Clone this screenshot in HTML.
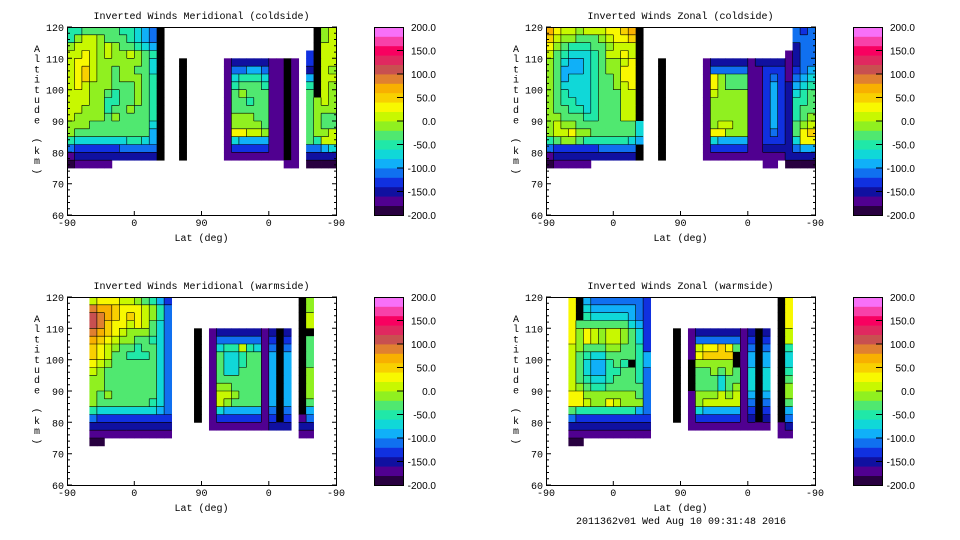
<!DOCTYPE html>
<html><head><meta charset="utf-8"><style>
html,body{margin:0;padding:0;background:#fff;}
svg{display:block;font-family:"Liberation Mono","DejaVu Sans Mono",monospace;font-size:10px;}
.cbl{font-family:"Liberation Sans","DejaVu Sans",sans-serif;font-size:10px;}
</style></head><body>
<svg id="chart" width="960" height="540" viewBox="0 0 960 540" xmlns="http://www.w3.org/2000/svg"></svg>
<script>
const bandColors=["#280040","#500090","#1010a0","#1030e0","#1070f0","#10b0f8","#10d8d8","#20e8a8","#50e870","#90f020","#c8f800","#f8f800","#f8d000","#f8b000","#e08030","#c85050","#e02860","#f80060","#f840a8","#f870f8"];
const colorbarLabels=["200.0","150.0","100.0","50.0","0.0","-50.0","-100.0","-150.0","-200.0"];
const yTickLabels=["120","110","100","90","80","70","60"];
const xTickLabels=["-90","0","90","0","-90"];
const panelTitles=["Inverted Winds Meridional (coldside)","Inverted Winds Zonal (coldside)","Inverted Winds Meridional (warmside)","Inverted Winds Zonal (warmside)"];
const gridMerCold=[
"778888877654k|........|.......|....|.k9a",
"79aa98887654k|........|.......|....|.k9a",
"9aaa9a988765k|........|.......|....|.kaa",
"aaba9a99a987k|........|.......|....|3kaa",
"abba99999986k|..k.....|1222221|1k1.|3kaa",
"abca99899886k|..k.....|1445541|1k1.|2ka9",
"abca99899987k|..k.....|1677761|1k1.|5kaa",
"aba999888987k|..k.....|1788871|1k1.|7ka9",
"aaa998788987k|..k.....|1898881|1k1.|8ka9",
"aaa997788987k|..k.....|1887881|1k1.|89a9",
"aa9997889887k|..k.....|1888881|1k1.|8999",
"a99998988887k|..k.....|1999881|1k1.|8988",
"999888888886k|..k.....|1999981|1k1.|8988",
"988888888885k|..k.....|1bbaa91|1k1.|899a",
"766666667765k|..k.....|1655551|1k1.|87aa",
"433333344444k|..k.....|1333331|1k1.|4456",
"122222222222k|..k.....|1111111|1k1.|2222",
"011111.......|........|.......|.11.|0000"];
const gridZonCold=[
"dbaa9aaabbcdk|........|.......|....|.434",
"ca998889abbck|........|.......|....|.444",
"b98777889aaak|........|.......|....|.244",
"a8766678aabak|........|.......|....|1244",
"9865567899abk|..k.....|1222221|2222|1244",
"9855567899bbk|..k.....|1444441|1333|1345",
"9856667889bbk|..k.....|1b98881|1343|1456",
"9866667889abk|..k.....|1b98881|1353|2567",
"9876667888aak|..k.....|1a99991|1353|2678",
"9877667888aak|..k.....|1999991|1353|2778",
"9887767888aak|..k.....|1999991|1353|2788",
"9988877888aak|..k.....|1999991|1353|2789",
"9a99888888886|..k.....|19aa991|1353|289a",
"9aab998888886|..k.....|1bb9991|1343|28bc",
"7899877777765|..k.....|1655551|1333|26bb",
"433333344444k|..k.....|1333331|1222|2455",
"122222222222k|..k.....|1111111|1111|2222",
"011111.......|........|.......|.11.|0000"];
const gridMerWarm=[
"...|abbbaa98753|.....|........|....|k9...",
"...|eddcbbba974|.....|........|....|k9...",
"...|fedcbcba974|.....|........|....|ka...",
"...|fecbbaba864|.....|........|....|ka...",
"...|edcba999864|...k.|12222221|2k2.|kk...",
"...|dcba9988764|...k.|14444441|3k3.|k8...",
"...|cba98878864|...k.|1677a761|4k4.|k8...",
"...|cba88777864|...k.|18667881|5k5.|k8...",
"...|ba988888864|...k.|18667881|5k5.|k8...",
"...|a9888888864|...k.|18668881|5k5.|k9...",
"...|99888888864|...k.|18888881|5k5.|k9...",
"...|99888888864|...k.|19988881|5k5.|k9...",
"...|98988888864|...k.|1aa98881|5k5.|k9...",
"...|98888888764|...k.|1a988881|5k5.|k8...",
"...|76666666654|...k.|16555551|4k4.|k5...",
"...|43333333333|...k.|13333331|3k3.|14...",
"...|22222222222|.....|11111111|222.|22...",
"...|11111111111|.....|........|....|11...",
"...|00.........|.....|........|....|....."];
const gridZonWarm=[
"...|bk544444443|.....|........|....|kb...",
"...|bk655555543|.....|........|....|kb...",
"...|bk766666543|.....|........|....|kb...",
"...|b8888888653|.....|........|....|kb...",
"...|b9ba9aa9863|...k.|12222221|2k2.|ka...",
"...|b9ba9aa9863|...k.|14444441|3k3.|ka...",
"...|a9888998873|...k.|1abbcb81|4k4.|k7...",
"...|a8766888875|...k.|1bcccck1|5k5.|k6...",
"...|a8655787k75|...k.|k99999k1|5k5.|k6...",
"...|a8655778874|...k.|k8898981|6k6.|k7...",
"...|a8766788874|...k.|k8886881|6k6.|k8...",
"...|a9877888884|...k.|k8886891|6k6.|k9...",
"...|bb999999984|...k.|1999a9a1|5k5.|k9...",
"...|bba99ba9994|...k.|19aaaaa1|4k4.|k8...",
"...|87777777754|...k.|16555551|3k3.|k5...",
"...|43333333333|...k.|13333331|2k2.|k4...",
"...|22222222222|.....|11111111|111.|12...",
"...|11111111111|.....|........|....|11...",
"...|00.........|.....|........|....|....."];
const footerText="2011362v01 Wed Aug 10 09:31:48 2016";

const NS="http://www.w3.org/2000/svg";
const svg=document.getElementById('chart');
const NCOL=36,NROW=24,PW=269,PH=188;
const panels=[{x:67,y:27,g:gridMerCold,n:'meridional-coldside'},{x:546,y:27,g:gridZonCold,n:'zonal-coldside'},{x:67,y:297,g:gridMerWarm,n:'meridional-warmside'},{x:546,y:297,g:gridZonWarm,n:'zonal-warmside'}];
function mk(tag,attrs,parent){const e=document.createElementNS(NS,tag);for(const k in attrs)e.setAttribute(k,attrs[k]);(parent||svg).appendChild(e);return e;}
function code(ch){if(ch==='.'||ch===undefined)return -1;if(ch==='k')return 99;const d='0123456789abcdefghij'.indexOf(ch);return d;}
function colOf(v){return v===99?'#000':bandColors[v];}
function txt(s,x,y,anchor,parent){const t=mk('text',{x:x,y:y,'text-anchor':anchor||'start',fill:'#000'},parent);t.textContent=s;return t;}

panels.forEach((p,pi)=>{
  const g=mk('g',{});
  
  
  const xs=c=>p.x+c*PW/NCOL, ys=r=>p.y+r*PH/NROW;
  const rows=p.g.map(s=>s.replace(/\|/g,''));
  const val=(r,c)=>r<rows.length?code(rows[r][c]):-1;
  for(let r=0;r<rows.length;r++)for(let c=0;c<NCOL;c++){
    const v=val(r,c); if(v<0)continue;
    const x0=xs(c),x1=xs(c+1),y0=ys(r),y1=ys(r+1);
    const rc=mk('rect',{x:x0.toFixed(2),y:y0.toFixed(2),width:(x1-x0+0.4).toFixed(2),height:(y1-y0+0.4).toFixed(2),fill:colOf(v)},g);
    
    
  }
  let d='';
  for(let r=0;r<rows.length;r++)for(let c=0;c<NCOL;c++){
    const v=val(r,c); if(v<0||v===99)continue;
    const vr=c+1<NCOL?val(r,c+1):-1, vd=val(r+1,c);
    if(vr>=0&&vr!==99&&vr!==v)d+=`M${xs(c+1).toFixed(1)} ${ys(r).toFixed(1)}V${ys(r+1).toFixed(1)}`;
    if(vd>=0&&vd!==99&&vd!==v)d+=`M${xs(c).toFixed(1)} ${ys(r+1).toFixed(1)}H${xs(c+1).toFixed(1)}`;
  }
  const cl=mk('path',{d:d,stroke:'#000','stroke-width':0.6,fill:'none'},g);
  
  
  const fr=mk('rect',{x:p.x+0.5,y:p.y+0.5,width:PW,height:PH,fill:'none',stroke:'#000','stroke-width':1},g);
  
  
  const yv=a=>p.y+(120-a)/60*PH;
  let td='';
  for(let a=60;a<=120;a+=2){const L=(a%10===0)?5:3;td+=`M${p.x} ${yv(a).toFixed(1)}h${L}M${p.x+PW+1} ${yv(a).toFixed(1)}h${-L}`;}
  const xv=i=>p.x+i*PW/4;
  for(let i=1;i<4;i++)td+=`M${xv(i).toFixed(1)} ${p.y+PH}v-4`;
  const tk=mk('path',{d:td,stroke:'#000','stroke-width':1,fill:'none'},g);
  
  
  yTickLabels.forEach((s,i)=>{const t=txt(s,p.x-3,yv(120-i*10)+4,'end',g);
    
    });
  xTickLabels.forEach((s,i)=>{const t=txt(s,xv(i),p.y+PH+11,'middle',g);
    
    });
  const xt=txt('Lat (deg)',p.x+PW/2,p.y+PH+26,'middle',g);
  
  
  const tt=txt(panelTitles[pi],p.x+PW/2,p.y-8,'middle',g);
  
  
  const yt=mk('g',{},g);
  
  
  'Altitude (km)'.split('').forEach((ch,i)=>{if(ch===' ')return;
    const t=txt(ch,p.x-30,p.y+25+i*10.2,'middle',yt);
    if(ch==='('||ch===')')t.setAttribute('transform',`rotate(90 ${p.x-30} ${p.y+22+i*10.2})`);});
  const cx=p.x+307,cw=29;
  const cb=mk('g',{},g);
  
  
  const bh=PH/bandColors.length;
  bandColors.forEach((c,i)=>{const r=mk('rect',{x:cx,y:(p.y+PH-(i+1)*bh).toFixed(2),width:cw,height:(bh+0.4).toFixed(2),fill:c},cb);
    
    });
  mk('rect',{x:cx+0.5,y:p.y+0.5,width:cw,height:PH,fill:'none',stroke:'#000'},cb);
  let cd='';
  colorbarLabels.forEach((s,i)=>{const yy=p.y+i*PH/(colorbarLabels.length-1);
    if(i>0&&i<colorbarLabels.length-1)cd+=`M${cx+cw} ${yy.toFixed(1)}h-6`;
    const t=txt(s,cx+62,yy+4,'end',cb);
    t.setAttribute('class','cbl');
    
    });
  mk('path',{d:cd,stroke:'#000',fill:'none'},cb);
});
const ft=txt(footerText,681,524,'middle');


</script>
</body></html>
